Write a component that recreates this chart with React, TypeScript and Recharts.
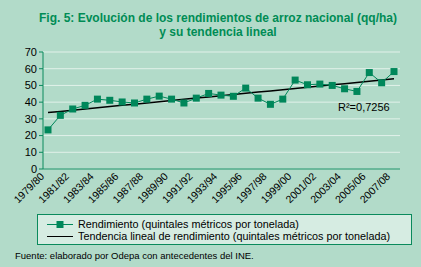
import React from "react";
import { CartesianGrid, Line, LineChart, XAxis, YAxis } from "recharts";

// temporadas agrícolas
const seasons = [
  "1979/80", "1980/81", "1981/82", "1982/83", "1983/84", "1984/85", "1985/86",
  "1986/87", "1987/88", "1988/89", "1989/90", "1990/91", "1991/92", "1992/93",
  "1993/94", "1994/95", "1995/96", "1996/97", "1997/98", "1998/99", "1999/00",
  "2000/01", "2001/02", "2002/03", "2003/04", "2004/05", "2005/06", "2006/07",
  "2007/08",
];

// rendimiento (qq/ha)
const rendimiento = [
  23.4, 32.1, 35.9, 38.1, 41.8, 41.1, 40.1, 39.5, 41.8, 43.6, 41.8, 39.5, 42.4,
  45.2, 44.2, 43.5, 48.4, 42.4, 38.7, 41.8, 53.2, 50.4, 50.8, 50.0, 48.0, 46.4,
  57.7, 51.6, 58.3,
];

const yTicks = [0, 10, 20, 30, 40, 50, 60, 70];

// linear trend (least squares over the series, like excel does)
const n = rendimiento.length;
const meanX = (n - 1) / 2;
const meanY = rendimiento.reduce((a, b) => a + b, 0) / n;
let sxy = 0;
let sxx = 0;
rendimiento.forEach((v, i) => {
  sxy += (i - meanX) * (v - meanY);
  sxx += (i - meanX) * (i - meanX);
});
const slope = sxy / sxx;
const intercept = meanY - slope * meanX;

const data = seasons.map((s, i) => ({
  season: s,
  rendimiento: rendimiento[i],
  trend: intercept + slope * i,
}));

const GREEN = "#00875a";
const AXIS = "#0a8a5c";
const FONT = "'Liberation Sans', Arial, sans-serif";

const SquareDot = (props: any) => {
  const { cx, cy, index } = props;
  if (cx == null || cy == null) return null;
  return <rect key={index} x={cx - 3.5} y={cy - 3.5} width={7} height={7} fill={GREEN} />;
};

const XTick = (props: any) => {
  const { x, y, payload } = props;
  return (
    <g transform={`translate(${x - 3},${y})`}>
      <text transform="rotate(-45)" textAnchor="end" fontSize={10.5} fontFamily={FONT} fill="#000">
        {payload.value}
      </text>
    </g>
  );
};

export default function App() {
  return (
    <div
      style={{
        position: "relative",
        width: 421,
        height: 267,
        background: "#b2dbc9",
        fontFamily: FONT,
        overflow: "hidden",
      }}
    >
      <style>{"body{margin:0}"}</style>
      <div
        style={{
          position: "absolute",
          top: 11,
          left: 0,
          width: 436,
          textAlign: "center",
          color: "#008c55",
          fontWeight: "bold",
          fontSize: 12,
          lineHeight: "14px",
          fontFamily: "'Liberation Sans Narrow', 'Liberation Sans', Arial, sans-serif",
        }}
      >
        Fig. 5: Evolución de los rendimientos de arroz nacional (qq/ha)
        <br />y su tendencia lineal
      </div>

      <div style={{ position: "absolute", top: 0, left: 0 }}>
        <LineChart
          width={421}
          height={212}
          data={data}
          margin={{ top: 52, right: 21, bottom: 2, left: 0 }}
        >
          <CartesianGrid vertical={false} stroke="#e2f1ea" strokeWidth={1} />
          <XAxis
            dataKey="season"
            interval={1}
            height={41}
            padding={{ left: 5, right: 6 }}
            axisLine={{ stroke: AXIS }}
            tickLine={false}
            tickSize={0}
            tickMargin={8}
            tick={<XTick />}
          />
          <YAxis
            domain={[0, 70]}
            ticks={yTicks}
            interval={0}
            width={43}
            tickSize={4}
            axisLine={{ stroke: AXIS }}
            tickLine={{ stroke: AXIS }}
            tick={{ fontSize: 11, fill: "#000", fontFamily: FONT }}
          />
          <YAxis
            yAxisId="border"
            orientation="right"
            domain={[0, 70]}
            width={0}
            tick={false}
            tickLine={false}
            axisLine={{ stroke: AXIS }}
          />
          <Line
            dataKey="trend"
            stroke="#000"
            strokeWidth={1.5}
            dot={false}
            isAnimationActive={false}
          />
          <Line
            dataKey="rendimiento"
            stroke={GREEN}
            strokeWidth={1}
            dot={<SquareDot />}
            isAnimationActive={false}
          />
        </LineChart>
      </div>

      <div
        style={{
          position: "absolute",
          left: 338,
          top: 101,
          fontSize: 11,
          color: "#000",
        }}
      >
        R²=0,7256
      </div>

      <div
        style={{
          position: "absolute",
          left: 37,
          top: 214,
          width: 373,
          height: 29,
          background: "#d6ece2",
          border: `1px solid ${AXIS}`,
          fontSize: 10.8,
          color: "#000",
        }}
      >
        <div style={{ position: "absolute", left: 9, top: 3, display: "flex", alignItems: "center" }}>
          <svg width={26} height={9} style={{ marginRight: 5 }}>
            <line x1={0} y1={4.5} x2={26} y2={4.5} stroke={GREEN} strokeWidth={1} />
            <rect x={9.5} y={1} width={7} height={7} fill={GREEN} />
          </svg>
          <span>Rendimiento (quintales métricos por tonelada)</span>
        </div>
        <div style={{ position: "absolute", left: 9, top: 15, display: "flex", alignItems: "center" }}>
          <svg width={26} height={9} style={{ marginRight: 5 }}>
            <line x1={0} y1={4.5} x2={26} y2={4.5} stroke="#000" strokeWidth={1} />
          </svg>
          <span>Tendencia lineal de rendimiento (quintales métricos por tonelada)</span>
        </div>
      </div>

      <div
        style={{
          position: "absolute",
          left: 15,
          top: 250,
          fontSize: 9.5,
          color: "#000",
          fontFamily: FONT,
        }}
      >
        Fuente: elaborado por Odepa con antecedentes del INE.
      </div>
    </div>
  );
}
